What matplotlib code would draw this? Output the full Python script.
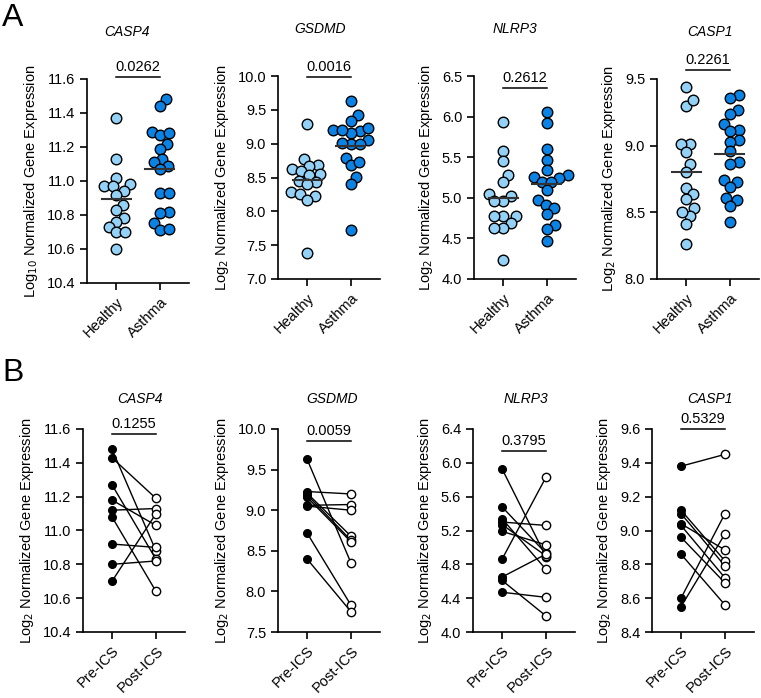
import numpy as np
import matplotlib.pyplot as plt
from matplotlib.ticker import FormatStrFormatter, MultipleLocator

plt.rcParams['font.family'] = ['Liberation Sans', 'DejaVu Sans']

# ---- data: row A (Healthy vs Asthma) ----
genes = ['CASP4', 'GSDMD', 'NLRP3', 'CASP1']
groups_a = ['Healthy', 'Asthma']
ylabels_a = ['Log$_{10}$ Normalized Gene Expression'] + ['Log$_2$ Normalized Gene Expression'] * 3
pvals_a = ['0.0262', '0.0016', '0.2612', '0.2261']

casp4_healthy = [11.37, 11.13, 11.02, 10.97, 10.97, 10.98, 10.94, 10.92, 10.86, 10.83,
                 10.78, 10.76, 10.73, 10.70, 10.70, 10.60]
casp4_asthma = [11.48, 11.44, 11.29, 11.27, 11.28, 11.22, 11.19, 11.13, 11.09, 11.11,
                11.07, 10.93, 10.93, 10.82, 10.81, 10.75, 10.71, 10.72]
gsdmd_healthy = [9.29, 8.78, 8.69, 8.67, 8.63, 8.60, 8.55, 8.53, 8.45, 8.43, 8.40,
                 8.29, 8.25, 8.22, 8.17, 7.39]
gsdmd_asthma = [9.63, 9.42, 9.34, 9.18, 9.16, 9.23, 9.20, 9.20, 9.06, 8.99, 9.00, 9.01,
                8.79, 8.68, 8.73, 8.51, 8.40, 7.73]
nlrp3_healthy = [5.93, 5.58, 5.45, 5.28, 5.19, 5.05, 5.02, 4.96, 4.96, 4.77, 4.77,
                 4.78, 4.69, 4.63, 4.63, 4.23]
nlrp3_asthma = [6.06, 5.92, 5.60, 5.47, 5.34, 5.28, 5.25, 5.24, 5.20, 5.20, 5.10,
                4.97, 4.91, 4.87, 4.80, 4.66, 4.61, 4.47]
casp1_healthy = [9.44, 9.30, 9.34, 9.01, 9.01, 8.95, 8.86, 8.80, 8.68, 8.64, 8.60,
                 8.53, 8.47, 8.50, 8.41, 8.26]
casp1_asthma = [9.38, 9.36, 9.27, 9.24, 9.16, 9.12, 9.11, 9.04, 9.03, 8.96, 8.88,
                8.86, 8.74, 8.73, 8.69, 8.61, 8.59, 8.55, 8.43]
data_a = [(casp4_healthy, casp4_asthma), (gsdmd_healthy, gsdmd_asthma),
          (nlrp3_healthy, nlrp3_asthma), (casp1_healthy, casp1_asthma)]

# ---- data: row B (paired Pre-ICS vs Post-ICS) ----
groups_b = ['Pre-ICS', 'Post-ICS']
pvals_b = ['0.1255', '0.0059', '0.3795', '0.5329']
casp4_pre = [11.48, 11.43, 11.27, 11.18, 11.12, 11.08, 10.92, 10.80, 10.70]
casp4_post = [10.88, 11.19, 10.83, 11.03, 11.13, 10.64, 10.90, 10.82, 11.10]
gsdmd_pre = [9.63, 9.23, 9.21, 9.19, 9.16, 9.06, 9.05, 8.72, 8.40]
gsdmd_post = [8.35, 9.20, 8.68, 8.63, 8.61, 9.07, 9.00, 7.83, 7.75]
nlrp3_pre = [5.93, 5.48, 5.34, 5.30, 5.27, 5.19, 4.86, 4.65, 4.61, 4.47]
nlrp3_post = [4.89, 4.93, 4.74, 5.26, 4.90, 5.03, 5.83, 4.92, 4.19, 4.41]
casp1_pre = [9.38, 9.12, 9.10, 9.04, 9.03, 8.96, 8.86, 8.60, 8.55]
casp1_post = [9.45, 8.82, 8.79, 8.885, 8.72, 8.69, 8.56, 9.10, 8.98]
data_b = [(casp4_pre, casp4_post), (gsdmd_pre, gsdmd_post),
          (nlrp3_pre, nlrp3_post), (casp1_pre, casp1_post)]

ylims_a = [(10.4, 11.6, 0.2), (7.0, 10.0, 0.5), (4.0, 6.5, 0.5), (8.0, 9.5, 0.5)]
ylims_b = [(10.4, 11.6, 0.2), (7.5, 10.0, 0.5), (4.0, 6.4, 0.4), (8.4, 9.6, 0.2)]

# ---- layout (pixels) ----
W, H = 761, 698
boxes_a = [(87, 79, 283), (278, 76, 279), (474, 76, 279), (657, 79, 279)]
boxes_b = [(83, 429, 632), (278, 429, 632), (473, 429, 632), (652, 429, 632)]
bar_a = [1.01, 0.995, 0.94, 1.045]
bar_b = [0.975, 0.94, 0.89, 1.0]
title_x_a = [0.39, 0.41, 0.40, 0.52]
title_x_b = [0.56, 0.53, 0.52, 0.57]
col_healthy = '#93d1f6'
col_asthma = '#0a83e4'

fig = plt.figure(figsize=(W / 100, H / 100), dpi=100)


def make_ax(left, top, bottom, lims):
    ax = fig.add_axes([left / W, 1 - bottom / H, 102 / W, (bottom - top) / H])
    ax.set_xlim(-0.66, 1.66)
    ax.set_ylim(lims[0], lims[1])
    ax.yaxis.set_major_locator(MultipleLocator(lims[2]))
    ax.yaxis.set_major_formatter(FormatStrFormatter('%.1f'))
    for s in ['top', 'right']:
        ax.spines[s].set_visible(False)
    for s in ['left', 'bottom']:
        ax.spines[s].set_linewidth(1.2)
    ax.tick_params(width=1.2, length=5, labelsize=10.5)
    ax.set_xticks([0, 1])
    return ax


def swarm(ax, xc, vals, d):
    # simple beeswarm in pixel space
    vals = np.asarray(vals)
    pts = ax.transData.transform(np.column_stack([np.full(len(vals), xc), vals]))
    placed = []
    xs = np.empty(len(vals))
    for i in np.argsort(vals):
        x0, y0 = pts[i]
        cands = [x0]
        for px, py in placed:
            dy = y0 - py
            if abs(dy) < d:
                dx = np.sqrt(d * d - dy * dy)
                cands += [px + dx, px - dx]
        cands.sort(key=lambda c: abs(c - x0))
        for c in cands:
            if all((c - px) ** 2 + (y0 - py) ** 2 >= d * d - 1e-6 for px, py in placed):
                break
        placed.append((c, y0))
        xs[i] = c
    return ax.transData.inverted().transform(np.column_stack([xs, pts[:, 1]]))[:, 0]


def pbar(ax, y, text):
    ax.plot([0, 1], [y, y], transform=ax.get_xaxis_transform(), color='black',
            lw=1.1, clip_on=False)
    ax.text(0.5, y + 0.015, text, transform=ax.get_xaxis_transform(),
            ha='center', va='bottom', fontsize=10.5)


# row A
for k in range(4):
    left, top, bottom = boxes_a[k]
    ax = make_ax(left, top, bottom, ylims_a[k])
    for j, (vals, col) in enumerate(zip(data_a[k], [col_healthy, col_asthma])):
        xs = swarm(ax, j, vals, 9.0)
        ax.scatter(xs, vals, s=58, color=col, edgecolor='black', linewidth=1.0,
                   zorder=3, clip_on=False)
        m = np.mean(vals)
        ax.plot([j - 0.33, j + 0.33], [m, m], color='#333333', lw=1.5, zorder=4)
    ax.set_xticklabels(groups_a, rotation=45, ha='right', rotation_mode='anchor')
    ax.set_ylabel(ylabels_a[k], fontsize=10.5, labelpad=5)
    pbar(ax, bar_a[k], pvals_a[k])
    ax.text(title_x_a[k], 1 + 47 / (bottom - top), genes[k], transform=ax.transAxes,
            ha='center', va='center', fontsize=10, style='italic')

# row B
for k in range(4):
    left, top, bottom = boxes_b[k]
    ax = make_ax(left, top, bottom, ylims_b[k])
    pre, post = data_b[k]
    for a, b in zip(pre, post):
        ax.plot([0, 1], [a, b], color='black', lw=1.0, zorder=2)
    ax.plot(np.zeros(len(pre)), pre, 'o', ms=5.5, color='black', zorder=3, clip_on=False)
    ax.plot(np.ones(len(post)), post, 'o', ms=6, mfc='white', mec='black', mew=1.0,
            zorder=3, clip_on=False)
    ax.set_xticklabels(groups_b, rotation=45, ha='right', rotation_mode='anchor')
    ax.set_ylabel('Log$_2$ Normalized Gene Expression', fontsize=10.5, labelpad=5)
    pbar(ax, bar_b[k], pvals_b[k])
    ax.text(title_x_b[k], 1 + 30 / (bottom - top), genes[k], transform=ax.transAxes,
            ha='center', va='center', fontsize=10, style='italic')

fig.text(2 / W, 1 - 3 / H, 'A', fontsize=23, va='top', ha='left')
fig.text(2 / W, 1 - 358 / H, 'B', fontsize=23, va='top', ha='left')

fig.savefig('out.png', dpi=100)
